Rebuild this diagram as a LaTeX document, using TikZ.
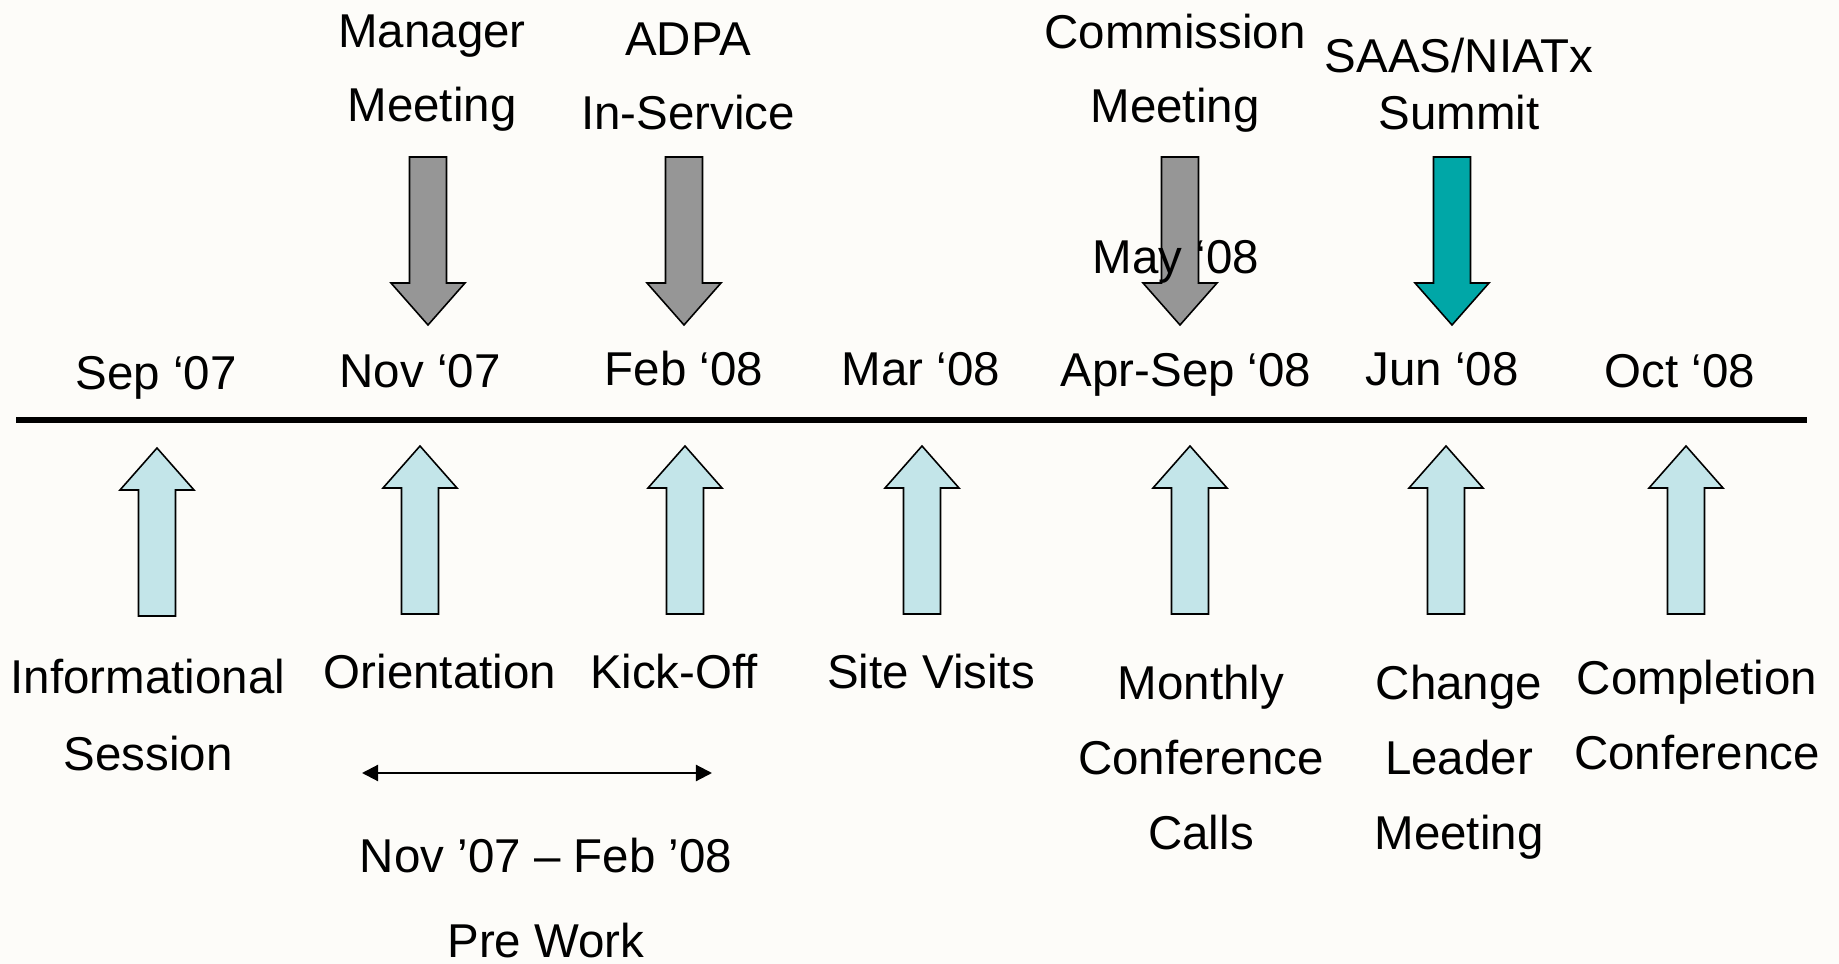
\documentclass[tikz,border=0pt]{standalone}
\usepackage{fontspec}
\setmainfont{Liberation Sans}
\usepackage{xcolor}
\usetikzlibrary{arrows.meta}

\definecolor{paper}{RGB}{253,252,249}
\definecolor{milestone}{RGB}{150,150,150}
\definecolor{summitteal}{RGB}{0,167,167}
\definecolor{eventblue}{RGB}{195,229,233}

\tikzset{
	blockarrow/.pic={
		\draw[pic actions] (0,0)--(37,42)--(18.5,42)--(18.5,168)
			--(-18.5,168)--(-18.5,42)--(-37,42)--cycle;
	},
}

\begin{document}
\begin{tikzpicture}[x=0.01cm, y=-0.01cm,
	lbl/.style={inner sep=0, anchor=base, align=center,
		font=\fontsize{13.5}{21.3}\selectfont},
	uparr/.style={draw=black, line width=0.45pt, fill=eventblue},
	downarr/.style={draw=black, line width=0.45pt, fill=milestone, rotate=180}]
				\useasboundingbox (0,0) rectangle (1839,964);
				\fill[paper] (0,0) rectangle (1839,964);
				
				% timeline
				\coordinate (tl-start) at (16,420);
				\coordinate (tl-end) at (1807,420);
				\draw[line width=1.6pt] (tl-start)--(tl-end);
				
				\foreach \x/\t in {157/448, 420/446, 685/446, 922/446, 1190/446, 1446/446, 1686/446}
					\pic[uparr] at (\x,\t) {blockarrow};
				\foreach \x in {428, 684, 1180}
					\pic[downarr] at (\x,325) {blockarrow};
				\pic[downarr, fill=summitteal] at (1452,325) {blockarrow};
				
				% dates (base = last line)
				\node[lbl] (sep07) at (156,390) {Sep ‘07};
				\node[lbl] (nov07) at (420,388) {Nov ‘07};
				\node[lbl] (feb08) at (684,386) {Feb ‘08};
				\node[lbl] (mar08) at (921,386) {Mar ‘08};
				\node[lbl] (aprsep08) at (1186,387) {Apr-Sep ‘08};
				\node[lbl] (jun08) at (1442,386) {Jun ‘08};
				\node[lbl] (oct08) at (1680,388) {Oct ‘08};
				
				% above the line
				\node[lbl] (mgrmeet) at (432,122) {Manager\\Meeting};
				\node[lbl] (adpa) at (688,130) {ADPA\\In-Service};
				\node[lbl] (commeet) at (1175,123) {Commission\\Meeting};
				\node[lbl, font=\fontsize{13.5}{16.4}\selectfont] (summit) at (1459,130) {SAAS/NIATx\\Summit};
				\node[lbl] (may08) at (1176,274) {May ‘08};
				
				% below the line
				\node[lbl, font=\fontsize{13.5}{21.8}\selectfont] (info) at (148,770) {Informational\\Session};
				\node[lbl] (orient) at (440,689) {Orientation};
				\node[lbl] (kickoff) at (674,688) {Kick-Off};
				\node[lbl] (sitevis) at (931,689) {Site Visits};
				\node[lbl] (calls) at (1201,849) {Monthly\\Conference\\Calls};
				\node[lbl] (leader) at (1459,849) {Change\\Leader\\Meeting};
				\node[lbl] (complete) at (1697,769) {Completion\\Conference};
				
				\coordinate (pw-from) at (362,773);
				\coordinate (pw-to) at (712,773);
				\draw[line width=0.6pt, {Triangle[length=1.6mm,width=1.6mm]}-{Triangle[length=1.6mm,width=1.6mm]}] (pw-from)--(pw-to);
				\node[lbl, font=\fontsize{13.5}{24}\selectfont] (prework) at (546,957) {Nov ’07 – Feb ’08\\Pre Work};
\end{tikzpicture}
\end{document}
